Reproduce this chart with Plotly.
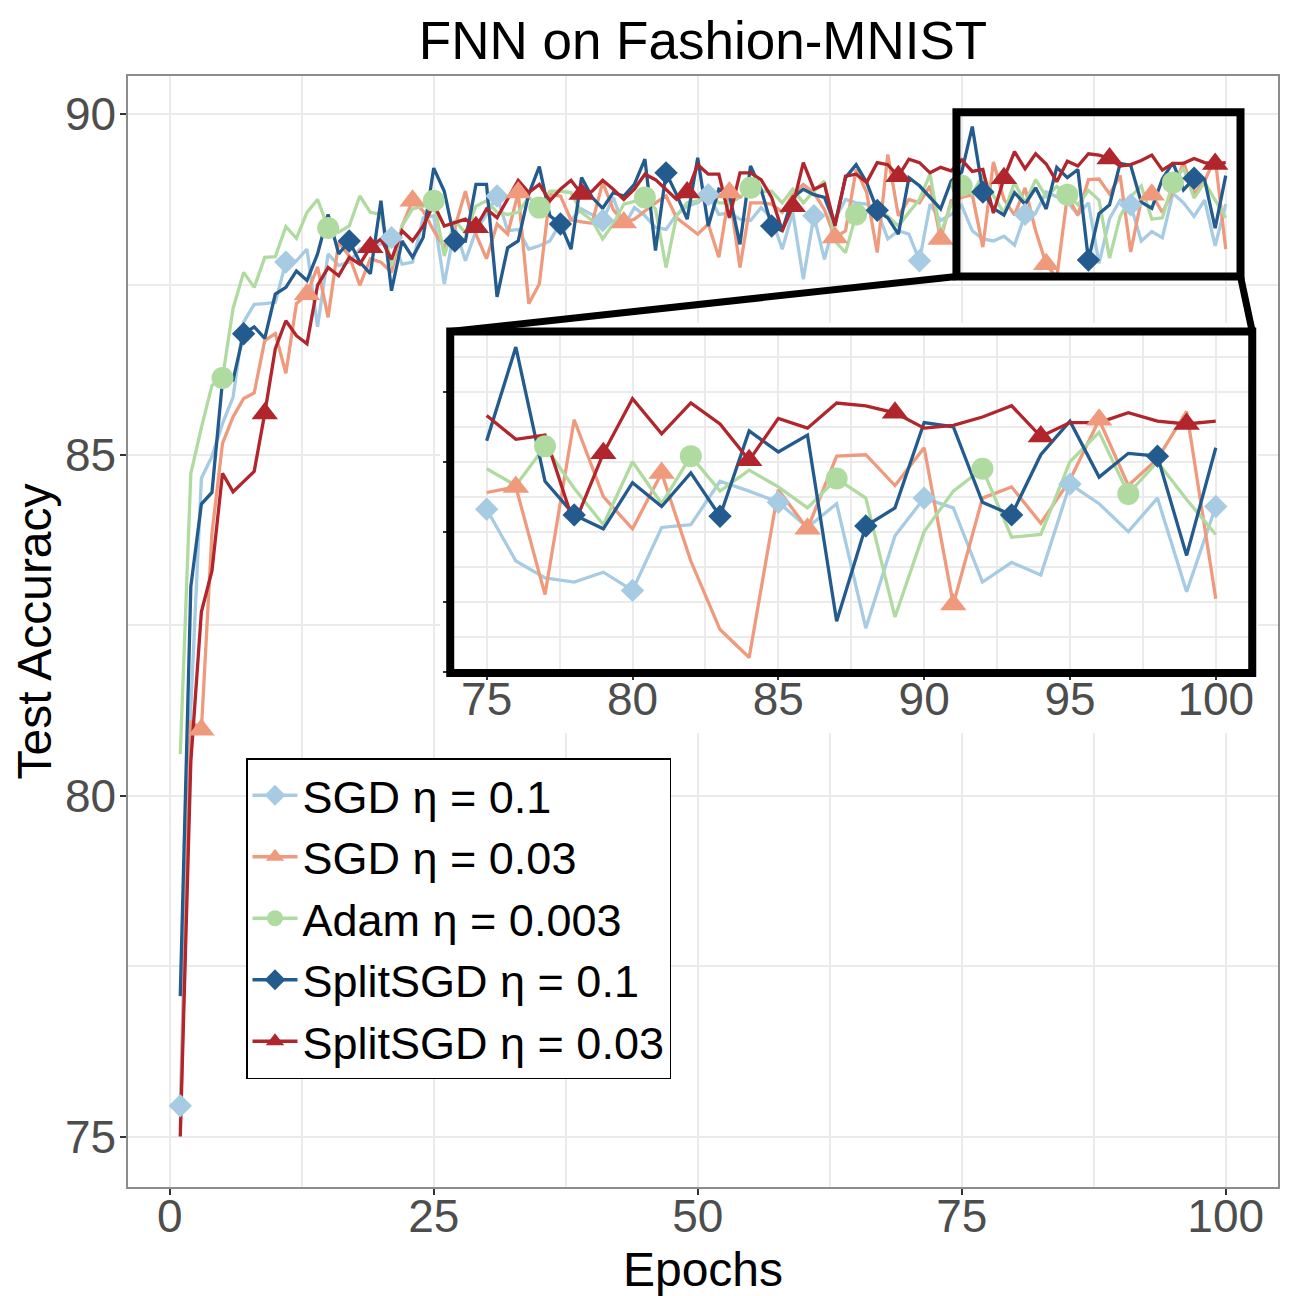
import plotly.graph_objects as go

# ---------------- data ----------------
epochs = list(range(1, 101))

sgd_01 = [75.45, 81.30, 84.66, 84.98, 85.46, 85.85, 86.95, 87.21, 87.22, 87.24,
          87.83, 87.85, 88.02, 86.88, 87.95, 87.78, 87.83, 88.02, 88.04, 88.10,
          88.19, 87.80, 87.83, 88.48, 88.51, 87.51, 88.34, 87.85, 88.29, 88.53,
          88.80, 88.29, 88.31, 88.02, 88.07, 88.14, 88.41, 88.45, 88.61, 88.53,
          88.44, 88.78, 88.35, 88.63, 88.51, 88.34, 88.31, 88.53, 88.65, 88.70,
          88.82, 88.53, 88.55, 88.46, 88.44, 88.63, 88.48, 88.02, 88.56, 87.58,
          88.51, 87.87, 88.46, 88.75, 88.70, 88.68, 88.58, 88.17, 88.29, 88.24,
          87.85, 88.68, 88.44, 88.53, 88.66, 88.29, 88.17, 88.14, 88.21, 88.08,
          88.53, 88.55, 88.86, 88.79, 88.71, 88.53, 88.70, 87.81, 88.47, 88.74,
          88.67, 88.14, 88.28, 88.19, 88.84, 88.70, 88.50, 88.74, 88.07, 88.68]

sgd_003 = [75.10, 81.10, 80.97, 83.85, 85.17, 85.56, 85.83, 85.91, 86.68, 86.78,
           86.20, 87.22, 87.36, 87.76, 87.02, 88.12, 87.92, 87.49, 87.88, 87.83,
           87.68, 88.36, 88.73, 88.58, 88.29, 88.05, 88.34, 88.87, 88.24, 87.88,
           88.39, 88.24, 88.85, 87.22, 87.51, 88.82, 88.80, 88.45, 88.42, 88.40,
           89.00, 88.60, 88.41, 88.46, 88.58, 88.70, 88.80, 88.48, 88.36, 88.24,
           88.39, 87.90, 88.85, 87.75, 88.70, 88.70, 88.68, 88.56, 88.82, 88.97,
           88.85, 88.60, 88.19, 88.29, 89.19, 88.85, 87.97, 89.41, 88.51, 88.75,
           88.70, 88.95, 88.17, 88.73, 88.78, 88.82, 88.05, 89.30, 88.75, 88.52,
           88.92, 88.29, 87.80, 87.60, 88.80, 88.52, 89.04, 89.05, 88.83, 89.10,
           87.98, 88.74, 88.82, 88.56, 88.87, 89.30, 88.83, 89.02, 89.36, 88.02]

adam_0003 = [80.61, 84.73, 85.40, 86.02, 86.13, 87.15, 87.68, 87.46, 87.90, 87.91,
             88.35, 88.18, 88.56, 88.75, 88.33, 88.27, 88.36, 88.80, 88.56, 88.53,
             87.78, 88.36, 88.61, 88.65, 88.73, 87.92, 88.44, 88.26, 88.65, 88.73,
             88.56, 88.53, 88.56, 88.78, 88.63, 88.87, 88.87, 88.85, 88.56, 88.44,
             88.17, 88.39, 88.68, 88.72, 88.78, 88.61, 87.75, 88.51, 88.70, 88.73,
             88.82, 88.70, 88.70, 88.78, 88.92, 88.87, 88.87, 88.70, 88.90, 88.70,
             88.87, 89.02, 88.14, 87.97, 88.53, 88.56, 88.65, 88.51, 88.36, 88.56,
             88.75, 89.12, 88.24, 88.68, 88.95, 88.83, 89.11, 88.81, 88.55, 89.00,
             88.70, 89.04, 88.79, 88.94, 88.82, 88.67, 88.88, 88.74, 87.89, 88.50,
             88.79, 88.95, 88.46, 88.48, 89.00, 89.21, 88.77, 89.00, 88.73, 88.48]

split_01 = [77.06, 83.07, 84.28, 84.45, 86.09, 86.10, 86.78, 86.88, 86.71, 87.36,
            87.46, 87.70, 87.56, 87.95, 88.53, 87.95, 88.14, 87.83, 87.66, 88.73,
            87.41, 88.14, 87.90, 88.19, 89.21, 88.87, 88.14, 88.14, 88.97, 88.97,
            87.32, 88.04, 88.14, 88.83, 89.23, 88.51, 88.39, 88.02, 89.07, 88.78,
            88.62, 88.85, 88.80, 88.97, 89.34, 88.00, 89.14, 88.82, 88.46, 89.36,
            88.36, 88.90, 88.82, 88.09, 89.24, 88.90, 88.36, 88.29, 88.78, 88.90,
            88.82, 88.78, 88.39, 89.07, 89.26, 89.00, 88.59, 88.48, 88.24, 89.07,
            88.95, 88.78, 88.61, 89.02, 89.15, 89.82, 88.86, 88.62, 88.52, 88.85,
            88.68, 88.92, 88.61, 89.22, 89.07, 89.19, 87.86, 88.54, 88.67, 89.28,
            89.25, 88.71, 88.62, 89.05, 89.29, 88.89, 89.06, 89.04, 88.33, 89.10]

split_003 = [75.00, 80.50, 82.70, 83.30, 84.73, 84.46, 84.61, 84.76, 85.61, 86.56,
             86.97, 86.75, 86.63, 87.49, 87.75, 87.63, 87.90, 87.80, 88.05, 88.17,
             87.87, 88.29, 88.14, 88.36, 88.68, 88.36, 88.41, 88.46, 88.34, 88.61,
             88.48, 88.75, 89.03, 88.85, 88.97, 88.73, 88.90, 89.03, 88.83, 88.87,
             89.03, 88.90, 88.75, 88.90, 89.12, 89.04, 88.90, 88.75, 88.85, 89.26,
             89.12, 89.12, 88.48, 89.14, 89.14, 89.04, 88.78, 88.29, 88.65, 89.29,
             88.90, 88.97, 88.36, 89.09, 89.12, 89.00, 89.29, 89.26, 89.09, 89.34,
             89.29, 89.14, 89.22, 89.17, 89.33, 89.16, 89.19, 88.55, 89.06, 89.45,
             89.20, 89.42, 89.27, 89.01, 89.31, 89.24, 89.42, 89.40, 89.35, 89.24,
             89.26, 89.32, 89.40, 89.18, 89.28, 89.28, 89.35, 89.29, 89.27, 89.29]

series_names = ["SGD η = 0.1", "SGD η = 0.03", "Adam η = 0.003",
                "SplitSGD η = 0.1", "SplitSGD η = 0.03"]
series_values = [sgd_01, sgd_003, adam_0003, split_01, split_003]

x_tick_vals = [0, 25, 50, 75, 100]
y_tick_vals = [75, 80, 85, 90]
inset_x_tick_vals = [75, 80, 85, 90, 95, 100]
inset_y_tick_vals = [87.5, 88.0, 88.5, 89.0, 89.5]
inset_epochs = (75, 100)

# ---------------- styling ----------------
colors = ["#A6CBE3", "#EF9A7D", "#B0DBA0", "#235B8E", "#B0262C"]
symbols = ["diamond", "triangle-up", "circle", "diamond", "triangle-up"]
marker_sizes = [18, 23, 22, 18, 23]
main_marker_offsets = [1, 3, 5, 7, 9]   # markers every 10 epochs
inset_marker_offsets = [0, 1, 2, 3, 4]  # markers every 5 epochs in inset
LINE_W = 3.3
FONT = "Liberation Sans, Arial, sans-serif"
GRID = "#EBEBEB"
TICKGREY = "#4D4D4D"

# page body has an 8px margin: the figure is 1288 px and starts at (8, 8)
OFF = 8
W = H = 1296 - OFF
ML, MR, MT, MB = 128 - OFF, 18, 76 - OFF, 109


def expand(lo, hi, f=0.05):
    d = (hi - lo) * f
    return [lo - d, hi + d]


all_vals = [v for s in series_values for v in s]
main_xr = expand(min(epochs), max(epochs))
main_yr = expand(min(all_vals), max(all_vals))

ins_idx = [i for i, e in enumerate(epochs) if inset_epochs[0] <= e <= inset_epochs[1]]
ins_vals = [s[i] for s in series_values for i in ins_idx]
inset_xr = expand(*inset_epochs)
inset_yr = expand(min(ins_vals), max(ins_vals))

# inset placement (paper coords)
inset_dom_x = [0.2802, 0.9776]
inset_dom_y = [0.4626, 0.7700]
cover_dom_x = [0.2713, 0.9826]
cover_dom_y = [0.4086, 0.7777]

# zoom rectangle in main data coords
zoom_box_x = [74.5, 101.4]
zoom_box_y = [87.62, 90.03]

fig = go.Figure()

# main lines
for name, vals, c in zip(series_names, series_values, colors):
    fig.add_trace(go.Scatter(x=epochs, y=vals, mode="lines",
                             line=dict(color=c, width=LINE_W),
                             showlegend=False, hoverinfo="skip"))
# main markers
for vals, c, sym, ms, off in zip(series_values, colors, symbols, marker_sizes, main_marker_offsets):
    xs = [e for e in epochs if (e - off) % 10 == 0]
    ys = [vals[epochs.index(e)] for e in xs]
    fig.add_trace(go.Scatter(x=xs, y=ys, mode="markers",
                             marker=dict(color=c, symbol=sym, size=ms, line=dict(width=0)),
                             showlegend=False, hoverinfo="skip"))
# legend entries
for name, c, sym in zip(series_names, colors, symbols):
    fig.add_trace(go.Scatter(x=[None], y=[None], mode="lines+markers", name=name,
                             line=dict(color=c, width=LINE_W),
                             marker=dict(color=c, symbol=sym, size=16, line=dict(width=0))))

# cover subplot (white background behind the inset and its labels)
fig.add_trace(go.Scatter(x=[None], y=[None], xaxis="x2", yaxis="y2",
                         showlegend=False, hoverinfo="skip"))

# inset lines
ins_ep = [epochs[i] for i in ins_idx]
for vals, c in zip(series_values, colors):
    fig.add_trace(go.Scatter(x=ins_ep, y=[vals[i] for i in ins_idx], mode="lines",
                             line=dict(color=c, width=LINE_W), xaxis="x3", yaxis="y3",
                             showlegend=False, hoverinfo="skip"))
for vals, c, sym, ms, off in zip(series_values, colors, symbols, marker_sizes, inset_marker_offsets):
    xs = [e for e in ins_ep if (e - inset_epochs[0] - off) % 5 == 0]
    ys = [vals[epochs.index(e)] for e in xs]
    fig.add_trace(go.Scatter(x=xs, y=ys, mode="markers", xaxis="x3", yaxis="y3",
                             marker=dict(color=c, symbol=sym, size=ms, line=dict(width=0)),
                             showlegend=False, hoverinfo="skip"))


def mp(x, y):
    """main data -> paper"""
    return ((x - main_xr[0]) / (main_xr[1] - main_xr[0]),
            (y - main_yr[0]) / (main_yr[1] - main_yr[0]))


bl = mp(zoom_box_x[0], zoom_box_y[0])
br = mp(zoom_box_x[1], zoom_box_y[0])

shapes = [
    dict(type="rect", xref="x", yref="y", x0=zoom_box_x[0], x1=zoom_box_x[1],
         y0=zoom_box_y[0], y1=zoom_box_y[1], line=dict(color="black", width=8)),
    dict(type="line", xref="paper", yref="paper", x0=bl[0], y0=bl[1],
         x1=inset_dom_x[0], y1=inset_dom_y[1], line=dict(color="black", width=7)),
    dict(type="line", xref="paper", yref="paper", x0=br[0], y0=br[1],
         x1=inset_dom_x[1], y1=inset_dom_y[1], line=dict(color="black", width=7)),
    dict(type="rect", xref="paper", yref="paper", x0=inset_dom_x[0], x1=inset_dom_x[1],
         y0=inset_dom_y[0], y1=inset_dom_y[1], line=dict(color="black", width=8)),
]

axis_common = dict(showgrid=True, gridcolor=GRID, gridwidth=1.5, zeroline=False,
                   ticks="outside", ticklen=6, tickwidth=1.5, tickcolor="#333333")

fig.update_layout(
    width=W, height=H,
    margin=dict(l=ML, r=MR, t=MT, b=MB, autoexpand=False),
    paper_bgcolor="white", plot_bgcolor="white",
    font=dict(family=FONT, color="black"),
    title=dict(text="FNN on Fashion-MNIST", x=0.5, xref="paper", xanchor="center",
               y=1 - (40 - OFF) / H, yref="container", yanchor="middle",
               font=dict(size=53, color="black", family=FONT)),
    xaxis=dict(range=main_xr, tickmode="array", tickvals=x_tick_vals,
               tickfont=dict(size=46, color=TICKGREY), ticklabelstandoff=-18,
               minor=dict(tickvals=[12.5, 37.5, 62.5, 87.5], showgrid=True, gridcolor=GRID,
                          gridwidth=1.5, ticks=""),
               showline=True, mirror=True, linecolor="#8C8C8C", linewidth=1.5,
               title=dict(text="Epochs", font=dict(size=48, color="black"), standoff=22),
               domain=[0, 1], anchor="y", **axis_common),
    yaxis=dict(range=main_yr, tickmode="array", tickvals=y_tick_vals,
               tickfont=dict(size=46, color=TICKGREY), ticklabelstandoff=-5,
               minor=dict(tickvals=[77.5, 82.5, 87.5], showgrid=True, gridcolor=GRID,
                          gridwidth=1.5, ticks=""),
               showline=True, mirror=True, linecolor="#8C8C8C", linewidth=1.5,
               title=dict(text="Test Accuracy", font=dict(size=48, color="black"), standoff=15),
               domain=[0, 1], anchor="x", **axis_common),
    xaxis2=dict(domain=cover_dom_x, anchor="y2", visible=False, range=[0, 1]),
    yaxis2=dict(domain=cover_dom_y, anchor="x2", visible=False, range=[0, 1]),
    xaxis3=dict(domain=inset_dom_x, anchor="y3", range=inset_xr, tickmode="array",
                tickvals=inset_x_tick_vals, tickfont=dict(size=46, color=TICKGREY),
                ticklabelstandoff=-20,
                minor=dict(tickvals=[72.5, 77.5, 82.5, 87.5, 92.5, 97.5], showgrid=True,
                           gridcolor=GRID, gridwidth=1.5, ticks=""),
                showline=False, **axis_common),
    yaxis3=dict(domain=inset_dom_y, anchor="x3", range=inset_yr, tickmode="array",
                tickvals=inset_y_tick_vals, showticklabels=False,
                minor=dict(tickvals=[87.75, 88.25, 88.75, 89.25, 89.75], showgrid=True,
                           gridcolor=GRID, gridwidth=1.5, ticks=""),
                showline=False, **axis_common),
    legend=dict(x=(246 - 128) / (W - ML - MR), y=(1296 - 109 - 758) / (H - MT - MB),
                xanchor="left", yanchor="top", bgcolor="white",
                bordercolor="black", borderwidth=1.5,
                font=dict(size=45, color="black", family=FONT),
                tracegroupgap=0, itemwidth=45),
    shapes=shapes,
    showlegend=True,
)

fig.write_html("out.html")
